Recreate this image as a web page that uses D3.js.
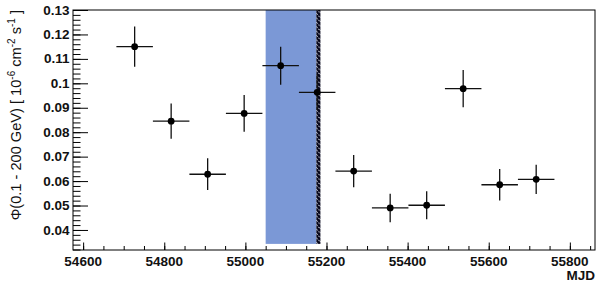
<!DOCTYPE html>
<html>
<head>
<meta charset="utf-8">
<script src="https://cdn.jsdelivr.net/npm/d3@7/dist/d3.min.js"></script>
<style>
html,body{margin:0;padding:0;background:#fff;}
svg{display:block;font-family:"Liberation Sans",Arial,Helvetica,sans-serif;}
</style>
</head>
<body>
<svg id="c" width="600" height="284"></svg>
<script>
// ---- data ----
const mjd      = [54727, 54817, 54907, 54997, 55087, 55177, 55267, 55357, 55447, 55537, 55627, 55717];
const mjdErr   = [45, 45, 45, 45, 45, 45, 45, 45, 45, 45, 45, 45];
const flux     = [0.1150, 0.0845, 0.0628, 0.0877, 0.1072, 0.0963, 0.0641, 0.0490, 0.0501, 0.0978, 0.0585, 0.0607];
const fluxErr  = [0.0082, 0.0072, 0.0065, 0.0075, 0.0078, 0.0073, 0.0066, 0.0058, 0.0057, 0.0076, 0.0064, 0.0060];
const band     = [55050, 55175];       // shaded MJD interval
const hatch    = [55175, 55185];       // hatched marker strip
const bandY    = [0.0343, 0.13];
const xTickLabels = [54600, 54800, 55000, 55200, 55400, 55600, 55800];
const yTickLabels = [0.04, 0.05, 0.06, 0.07, 0.08, 0.09, 0.1, 0.11, 0.12, 0.13];

// ---- layout ----
const L = 73, R = 595, T = 10, B = 250;
const svg = d3.select("#c");
const x = d3.scaleLinear().domain([54575, 55862]).range([L, R]);
const y = d3.scaleLinear().domain([0.0318, 0.13]).range([B, T]);

const defs = svg.append("defs");
const pat = defs.append("pattern").attr("id","hatch").attr("patternUnits","userSpaceOnUse")
  .attr("width", 6).attr("height", 4.4);
pat.append("rect").attr("width",6).attr("height",4.4).attr("fill","#e8ecf6");
pat.append("path").attr("d","M-1,-0.3 L7,4.2").attr("stroke","#05051a").attr("stroke-width",3.2);
pat.append("path").attr("d","M-1,4.1 L7,8.6").attr("stroke","#05051a").attr("stroke-width",3.2);
pat.append("path").attr("d","M-1,-4.7 L7,-0.2").attr("stroke","#05051a").attr("stroke-width",3.2);

// band
svg.append("rect")
  .attr("x", x(band[0])).attr("width", x(band[1]) - x(band[0]))
  .attr("y", y(bandY[1])).attr("height", y(bandY[0]) - y(bandY[1]))
  .attr("fill", "#7b98d6");
svg.append("rect")
  .attr("x", x(hatch[0])).attr("width", x(hatch[1]) - x(hatch[0]))
  .attr("y", y(bandY[1])).attr("height", y(bandY[0]) - y(bandY[1]))
  .attr("fill", "url(#hatch)");

// frame
svg.append("rect").attr("x", L).attr("y", T).attr("width", R - L).attr("height", B - T)
  .attr("fill","none").attr("stroke","#000").attr("stroke-width",1);

// x axis
const xMinor = d3.range(54600, 55862, 50);
const xAx = d3.axisTop(x).tickValues(xMinor).tickSize(4).tickFormat("");
svg.append("g").attr("transform",`translate(0,${B})`).call(xAx).call(g=>g.select(".domain").remove())
  .selectAll("line").attr("stroke","#000");
const xMaj = d3.axisTop(x).tickValues(xTickLabels).tickSize(7.5).tickFormat("");
svg.append("g").attr("transform",`translate(0,${B})`).call(xMaj).call(g=>g.select(".domain").remove())
  .selectAll("line").attr("stroke","#000");
svg.append("g").selectAll("text").data(xTickLabels).join("text")
  .attr("x", d => x(d)).attr("y", 266).attr("text-anchor","middle")
  .attr("font-size", 13.5).attr("font-weight","bold").attr("fill","#111").text(d => d);

// y axis
const yMinor = d3.range(0.032, 0.1301, 0.002);
const yAx = d3.axisRight(y).tickValues(yMinor).tickSize(7.5).tickFormat("");
svg.append("g").attr("transform",`translate(${L},0)`).call(yAx).call(g=>g.select(".domain").remove())
  .selectAll("line").attr("stroke","#000");
const yMaj = d3.axisRight(y).tickValues(yTickLabels).tickSize(15).tickFormat("");
svg.append("g").attr("transform",`translate(${L},0)`).call(yMaj).call(g=>g.select(".domain").remove())
  .selectAll("line").attr("stroke","#000");
svg.append("g").selectAll("text").data(yTickLabels).join("text")
  .attr("x", 69.5).attr("y", d => y(d) + 4.6).attr("text-anchor","end")
  .attr("font-size", 13.5).attr("font-weight","bold").attr("fill","#111").text(d => String(d));

// axis titles
svg.append("text").attr("x", 595).attr("y", 280).attr("text-anchor","end")
  .attr("font-size", 13.5).attr("font-weight","bold").attr("fill","#111").text("MJD");
const yt = svg.append("text").attr("transform","translate(21,10) rotate(-90)")
  .attr("text-anchor","end").attr("font-size",14.6).attr("fill","#111");
yt.append("tspan").text("Φ(0.1 - 200 GeV) [ 10");
yt.append("tspan").attr("font-size",10).attr("dy",-6).text("-6");
yt.append("tspan").attr("dy",6).text(" cm");
yt.append("tspan").attr("font-size",10).attr("dy",-6).text("-2");
yt.append("tspan").attr("dy",6).text(" s");
yt.append("tspan").attr("font-size",10).attr("dy",-6).text("-1");
yt.append("tspan").attr("dy",6).text(" ]");

// data points
const idx = d3.range(mjd.length);
const pts = svg.append("g");
pts.selectAll("line.h").data(idx).join("line").attr("class","h")
  .attr("x1", i => x(mjd[i] - mjdErr[i])).attr("x2", i => x(mjd[i] + mjdErr[i]))
  .attr("y1", i => y(flux[i])).attr("y2", i => y(flux[i]))
  .attr("stroke","#111").attr("stroke-width",1.3);
pts.selectAll("line.v").data(idx).join("line").attr("class","v")
  .attr("x1", i => x(mjd[i])).attr("x2", i => x(mjd[i]))
  .attr("y1", i => y(flux[i] - fluxErr[i])).attr("y2", i => y(flux[i] + fluxErr[i]))
  .attr("stroke","#111").attr("stroke-width",1.3);
pts.selectAll("circle").data(idx).join("circle")
  .attr("cx", i => x(mjd[i])).attr("cy", i => y(flux[i])).attr("r", 3.4).attr("fill","#000");
</script>
</body>
</html>
